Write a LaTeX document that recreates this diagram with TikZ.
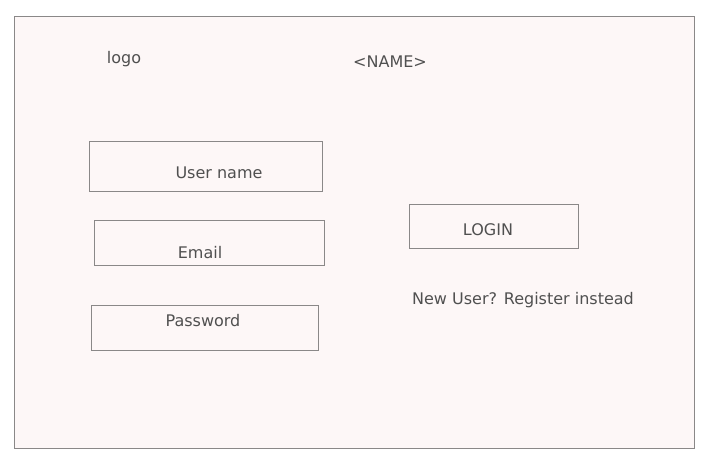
\documentclass[tikz,border=0pt]{standalone}
\usepackage{fontspec}
\setmainfont{DejaVu Sans}
\definecolor{paper}{HTML}{FDF7F7}
\definecolor{ink}{HTML}{505050}
\definecolor{edge}{HTML}{8A8888}
\tikzset{
	field/.style={draw=edge, line width=1pt, minimum width=#1, minimum height=45pt, anchor=north west, inner sep=0pt},
	label/.style={text=ink, font=\fontsize{16}{18}\selectfont}
}
\begin{document}
\begin{tikzpicture}[x=1pt, y=-1pt]
	\useasboundingbox (0,0) rectangle (715,461);
	\node[draw=edge, fill=paper, line width=1.2pt, minimum width=680pt, minimum height=432pt, anchor=north west, inner sep=0pt] (frame) at (14,16) {};
	\node[label] (logo) at (124,59) {logo};
	\node[label] (title) at (390,62) {<NAME>};
	\node[field=233pt, minimum height=50pt] (userbox) at (89,141) {};
	\node[label] (user) at (219,173) {User name};
	\node[field=230pt] (mailbox) at (94,220) {};
	\node[label] (mail) at (200,253) {Email};
	\node[field=227pt] (passbox) at (91,305) {};
	\node[label] (pass) at (203,321) {Password};
	\node[field=169pt, minimum height=44pt] (loginbox) at (409,204) {};
	\node[label] (login) at (488,230) {LOGIN};
	\node[label] (register) at (523,300) {New User? Register instead};
\end{tikzpicture}
\end{document}
